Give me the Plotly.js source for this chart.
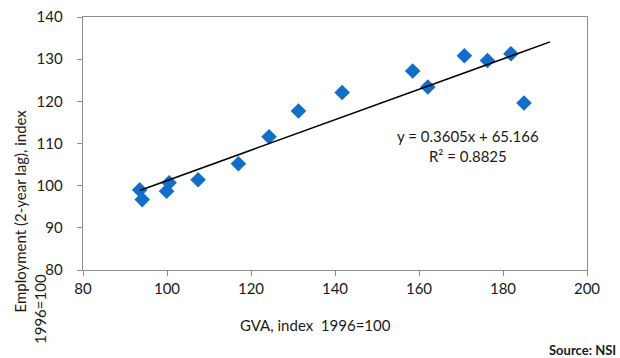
<!DOCTYPE html>
<html><head><meta charset="utf-8">
<script src="https://cdn.plot.ly/plotly-3.0.1.min.js"></script>
<style>html,body{margin:0;padding:0;background:#fff}</style>
</head><body><div id="chart" style="width:620px;height:358px"></div>
<script>
// Data
const gva = [93.5, 94.1, 99.9, 100.5, 107.4, 117.0, 124.3, 131.3, 141.7, 158.5, 162.1, 170.8, 176.3, 181.9, 185.0];
const employment = [99.0, 96.7, 98.7, 100.7, 101.4, 105.2, 111.6, 117.7, 122.1, 127.2, 123.4, 130.8, 129.7, 131.3, 119.6];
// Trendline as stated on the chart: y = 0.3605x + 65.166
const trendSlope = 0.3605;
const trendIntercept = 65.166;
const trendX = [93.5, 191.2];
const trendY = trendX.map(x => trendSlope * x + trendIntercept);
const xTicks = [80, 100, 120, 140, 160, 180, 200];
const yTicks = [80, 90, 100, 110, 120, 130, 140];

const font = "Lato, 'Open Sans', sans-serif";
const grey = '#8c8c8c';
const txt = '#1a1a1a';

const traces = [
  {x: gva, y: employment, type: 'scatter', mode: 'markers',
   marker: {symbol: 'diamond', size: 12, color: '#126ec6'}, hoverinfo: 'skip'},
  {x: trendX, y: trendY, type: 'scatter', mode: 'lines',
   line: {color: '#000', width: 1.5}, hoverinfo: 'skip'}
];

const layout = {
  width: 620, height: 358,
  margin: {l: 83, r: 33, t: 17, b: 88},
  paper_bgcolor: '#fff', plot_bgcolor: '#fff',
  showlegend: false,
  font: {family: font, size: 15, color: txt},
  xaxis: {range: [80, 200], tickvals: xTicks, ticktext: xTicks.map(String),
          showgrid: false, zeroline: false, showline: true, mirror: true,
          linecolor: grey, linewidth: 1.3, ticks: 'outside', ticklen: 5, tickcolor: grey,
          tickfont: {family: font, size: 15, color: txt}, fixedrange: true},
  yaxis: {range: [80, 140], tickvals: yTicks, ticktext: yTicks.map(String),
          showgrid: false, zeroline: false, showline: true, mirror: true,
          linecolor: grey, linewidth: 1.3, ticks: 'outside', ticklen: 5, tickcolor: grey,
          ticklabelstandoff: 11,
          tickfont: {family: font, size: 15, color: txt}, fixedrange: true},
  annotations: [
    {xref: 'paper', yref: 'paper', x: (468 - 83) / 504, y: (253 - (146.5 - 17)) / 253,
     xanchor: 'center', yanchor: 'middle',
     text: 'y = 0.3605x + 65.166<br>R² = 0.8825',
     showarrow: false, font: {family: font, size: 15, color: txt}, align: 'center'},
    {xref: 'paper', yref: 'paper', x: (315 - 83) / 504, y: (253 - (325 - 17)) / 253, yanchor: 'middle',
     text: 'GVA, index&nbsp;&nbsp;1996=100', showarrow: false,
     font: {family: font, size: 15, color: txt}},
    {xref: 'paper', yref: 'paper', x: (19 - 83) / 504, y: (253 - (211.5 - 17)) / 253, xanchor: 'center', yanchor: 'middle',
     text: 'Employment (2-year lag), index', textangle: -90, showarrow: false,
     font: {family: font, size: 15, color: txt}},
    {xref: 'paper', yref: 'paper', x: (40 - 83) / 504, y: (253 - (309 - 17)) / 253, xanchor: 'center', yanchor: 'middle',
     text: '1996=100', textangle: -90, showarrow: false,
     font: {family: font, size: 15, color: txt}},
    {xref: 'paper', yref: 'paper', x: (618 - 83) / 504, y: (253 - (350 - 17)) / 253, xanchor: 'right', yanchor: 'middle',
     text: '<b>Source: NSI</b>', showarrow: false,
     font: {family: font, size: 13, color: txt}}
  ]
};

Plotly.newPlot('chart', traces, layout, {displayModeBar: false, staticPlot: true});
</script></body></html>
